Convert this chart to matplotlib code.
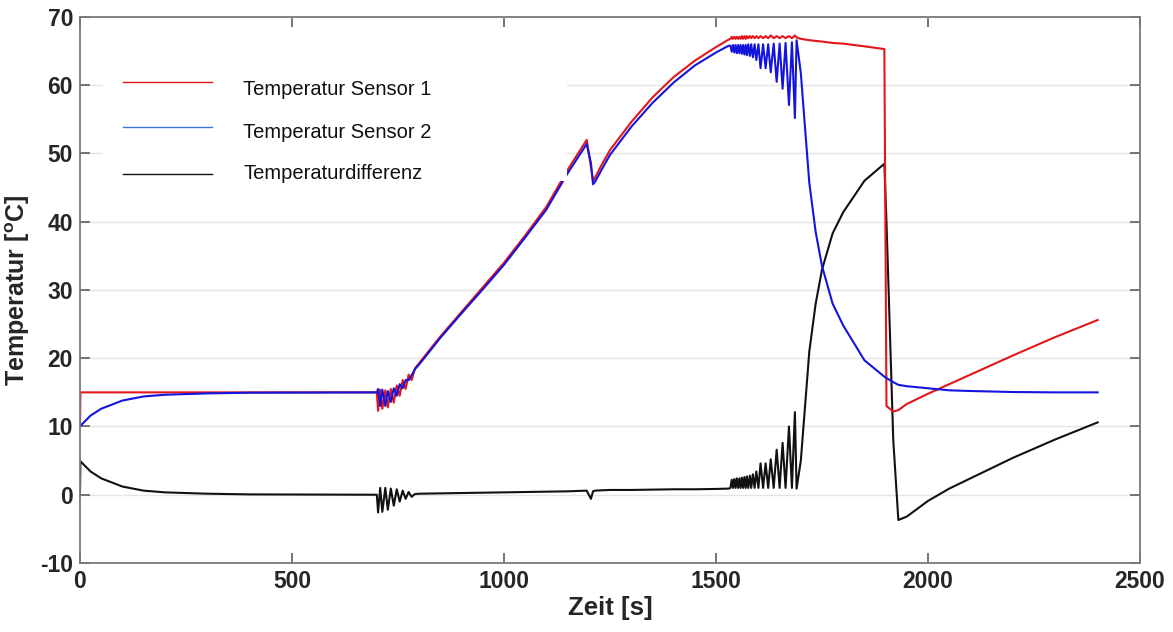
import numpy as np
import matplotlib.pyplot as plt
from matplotlib.patches import Rectangle

plt.rcParams['font.family'] = ['Liberation Sans', 'DejaVu Sans']
plt.rcParams['mathtext.fontset'] = 'custom'
plt.rcParams['mathtext.bf'] = 'Liberation Sans:bold'
plt.rcParams['axes.unicode_minus'] = False

# smooth parts (time in s, temperature in degC)
t_start = [0, 1, 25, 50, 100, 150, 200, 300, 400, 700]
red_start = [10, 15, 15, 15, 15, 15, 15, 15, 15, 15]
blue_start = [10, 10.1, 11.6, 12.6, 13.8, 14.4, 14.65, 14.85, 14.95, 15]
diff_start = [0.3, 4.9, 3.4, 2.4, 1.2, 0.6, 0.35, 0.15, 0.05, 0.0]

# first oscillation around 700-790 s
t_osc1 = [703, 708, 713, 720, 726, 733, 740, 747, 754, 761, 768, 775, 782, 790]
red_osc1 = [12.3, 15.4, 12.6, 15.3, 12.8, 15.5, 13.5, 16.0, 14.5, 16.8, 15.5, 17.6, 16.8, 18.5]
blue_osc1 = [15.5, 13.0, 15.4, 13.0, 15.2, 13.6, 15.6, 14.5, 16.2, 15.6, 16.8, 16.8, 17.5, 18.4]
diff_osc1 = [-2.6, 1.0, -2.5, 1.0, -2.2, 0.9, -1.6, 0.8, -1.0, 0.6, -0.6, 0.4, -0.3, 0.1]

# heating ramp with the dip near 1200 s
t_ramp = [800, 850, 900, 950, 1000, 1050, 1100, 1150, 1195, 1205, 1210, 1215, 1230, 1250,
          1300, 1350, 1400, 1450, 1500, 1530]
red_ramp = [19.3, 23.2, 26.8, 30.4, 34.0, 38.0, 42.2, 47.6, 52.0, 48.0, 46.0, 46.5, 48.3, 50.5,
            54.6, 58.2, 61.2, 63.6, 65.6, 66.7]
blue_ramp = [19.1, 23.0, 26.6, 30.1, 33.7, 37.7, 41.8, 47.1, 51.4, 48.6, 45.5, 45.9, 47.6, 49.8,
             53.9, 57.4, 60.4, 62.9, 64.8, 65.8]
diff_ramp = [0.15, 0.2, 0.25, 0.3, 0.35, 0.4, 0.45, 0.5, 0.6, -0.6, 0.5, 0.6, 0.65, 0.7,
             0.7, 0.75, 0.8, 0.8, 0.85, 0.9]

# second oscillation 1534-1690 s (alternating base / spike)
t_osc2 = [1534, 1537, 1540, 1543, 1546, 1549, 1552, 1555, 1558, 1561, 1564, 1567, 1570, 1573,
          1576, 1580, 1583, 1587, 1591, 1595, 1600, 1605, 1611, 1617, 1623, 1629, 1636, 1643,
          1650, 1657, 1664, 1672, 1679, 1686, 1690]
red_osc2 = [66.8, 67.1, 66.8, 67.1, 66.8, 67.1, 66.8, 67.1, 66.8, 67.2, 66.8, 67.2, 66.8, 67.2,
            66.9, 67.2, 66.9, 67.2, 66.9, 67.2, 66.9, 67.2, 66.9, 67.2, 66.9, 67.3, 66.9, 67.2,
            66.9, 67.2, 66.9, 67.2, 66.9, 67.3, 67.0]
blue_osc2 = [65.8, 64.9, 65.9, 64.8, 65.9, 64.7, 65.9, 64.7, 65.9, 64.6, 65.9, 64.5, 65.9, 64.4,
             66.0, 64.3, 66.0, 64.1, 66.0, 63.7, 66.0, 62.5, 66.0, 62.5, 66.0, 61.9, 66.1, 60.5,
             66.1, 59.5, 66.2, 57.1, 66.3, 55.2, 66.6]
diff_osc2 = [1.0, 2.2, 1.0, 2.3, 1.0, 2.4, 1.0, 2.4, 1.0, 2.5, 1.0, 2.6, 1.0, 2.7,
             1.0, 2.8, 1.0, 3.0, 1.0, 3.4, 1.0, 4.6, 1.0, 4.6, 1.0, 5.2, 1.0, 6.6,
             1.0, 7.6, 1.0, 10.0, 1.0, 12.1, 0.9]

# cooling of sensor 2, sudden drop of sensor 1 at ~1900 s, recovery
t_end = [1700, 1710, 1720, 1735, 1750, 1775, 1800, 1850, 1897, 1902, 1918, 1930, 1950, 2000,
         2050, 2100, 2200, 2300, 2400]
red_end = [66.8, 66.7, 66.6, 66.5, 66.4, 66.2, 66.1, 65.7, 65.3, 13.0, 12.2, 12.4, 13.3, 14.8,
           16.2, 17.6, 20.4, 23.1, 25.6]
blue_end = [61.8, 53.7, 45.7, 38.5, 33.5, 28.0, 24.8, 19.7, 17.3, 17.1, 16.5, 16.1, 15.9, 15.6,
            15.3, 15.2, 15.05, 15.0, 15.0]
diff_end = [5.0, 13.0, 21.0, 28.0, 33.0, 38.3, 41.4, 46.0, 48.5, 40.0, 8.0, -3.7, -3.2, -0.9,
            0.9, 2.4, 5.4, 8.1, 10.6]

t_all = np.concatenate([t_start, t_osc1, t_ramp, t_osc2, t_end])
red = np.concatenate([red_start, red_osc1, red_ramp, red_osc2, red_end])
blue = np.concatenate([blue_start, blue_osc1, blue_ramp, blue_osc2, blue_end])
diff = np.concatenate([diff_start, diff_osc1, diff_ramp, diff_osc2, diff_end])

labels = ['Temperatur Sensor 1', 'Temperatur Sensor 2', 'Temperaturdifferenz']
c_red = '#e3161b'
c_blue = '#1414dc'
c_black = '#111111'
leg_colors = [c_red, '#3a78e0', c_black]

fig = plt.figure(figsize=(11.73, 6.32), dpi=100)
ax = fig.add_axes([0.0682, 0.1092, 0.9037, 0.8639])

ax.plot(t_all, diff, color=c_black, lw=1.5, zorder=2)
ax.plot(t_all, red, color=c_red, lw=1.5, zorder=2)
ax.plot(t_all, blue, color=c_blue, lw=1.5, zorder=2)

ax.set_xlim(0, 2500)
ax.set_ylim(-10, 70)
ax.set_xticks(np.arange(0, 2501, 500))
ax.set_yticks(np.arange(-10, 71, 10))
ax.yaxis.grid(True, color='#e4e4e4', lw=1.0, zorder=0)
ax.set_axisbelow(True)

for s in ax.spines.values():
    s.set_color('#7a7a7a')
    s.set_linewidth(1.3)
ax.tick_params(direction='in', length=7, width=1.3, color='#6a6a6a',
               top=True, right=True, labelsize=16.5, pad=5)
for lab in ax.get_xticklabels() + ax.get_yticklabels():
    lab.set_fontweight('bold')
    lab.set_color('#262626')

ax.set_xlabel('Zeit [s]', fontsize=18.5, fontweight='bold', color='#262626', labelpad=2)
ax.set_ylabel(r'Temperatur [$^{\mathbf{o}}$C]', fontsize=18, fontweight='bold',
              color='#262626', labelpad=6)

# white legend box hides the grid and part of the curve
ax.add_patch(Rectangle((0.022, 0.70), 0.437, 0.23, transform=ax.transAxes,
                       facecolor='white', edgecolor='none', zorder=3))
line_rows = [0.881, 0.798, 0.712]
text_rows = [0.867, 0.789, 0.713]
for lab, col, yl, yt in zip(labels, leg_colors, line_rows, text_rows):
    ax.plot([0.0406, 0.1245], [yl, yl], transform=ax.transAxes, color=col, lw=1.0, zorder=4)
    ax.text(0.1538, yt, lab, transform=ax.transAxes, fontsize=14.5, va='center',
            ha='left', color='#111111', zorder=4)

fig.savefig('out.png', dpi=100, facecolor='white')
